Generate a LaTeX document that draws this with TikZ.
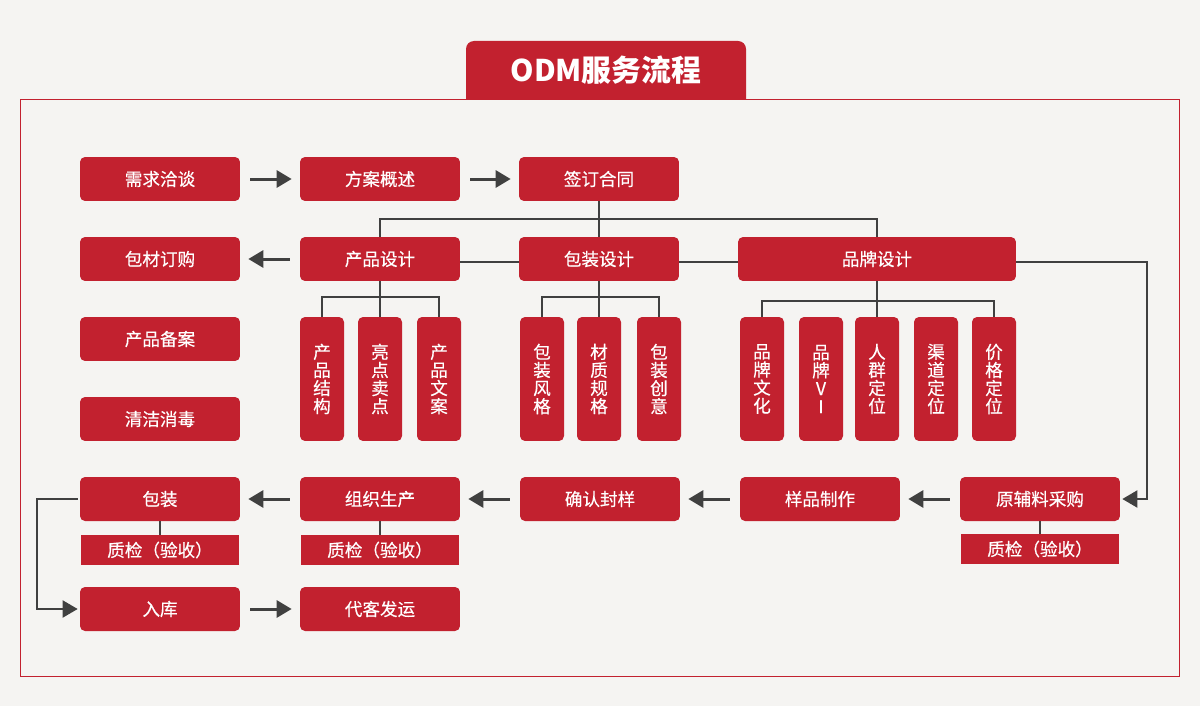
\documentclass[tikz,border=0pt]{standalone}
\usepackage{fontspec}
\setmainfont{Noto Sans CJK SC}
\newfontfamily\boxfont{Noto Sans CJK SC}[FakeBold=0.4]
\usetikzlibrary{arrows.meta}

\definecolor{odmred}{HTML}{C2212F}
\definecolor{bggrey}{HTML}{F5F4F2}
\definecolor{lineg}{HTML}{404040}

\tikzset{
  box/.style={fill=odmred, text=white, rounded corners=0.1cm, minimum width=3.2cm,
    minimum height=0.88cm, inner sep=0pt, font=\boxfont\fontsize{10}{12}\selectfont},
  vbox/.style={fill=odmred, text=white, rounded corners=0.1cm, minimum width=0.88cm,
    minimum height=2.48cm, inner sep=0pt, align=center, font=\boxfont\fontsize{10}{10.3}\selectfont},
  qbox/.style={fill=odmred, text=white, minimum width=3.18cm, minimum height=0.6cm,
    inner sep=0pt, font=\boxfont\fontsize{10}{12}\selectfont},
  link/.style={draw=lineg, line width=0.04cm},
  arr/.style={draw=lineg, line width=0.06cm, -{Triangle[length=0.3cm,width=0.34cm]},
    shorten <=0.2cm, shorten >=0.16cm},
}

\begin{document}
\begin{tikzpicture}[x=0.02cm, y=-0.02cm]

    % Background and frame
    \useasboundingbox (0,0) rectangle (1200,706);
    \fill[bggrey] (0,0) rectangle (1200,706);
    \draw[odmred, line width=0.02cm] (20,100) rectangle (1179,676);

    % Title tab
    \fill[odmred] (466,100) [rounded corners=0.16cm] -- (466,41) -- (746,41) [sharp corners] -- (746,100) -- cycle;
    \node[text=white, font=\fontsize{17}{20}\bfseries\selectfont] (title) at (606,70) {ODM服务流程};

    % Row 1
    \node[box] (xuqiu) at (160,179) {需求洽谈};
    \node[box] (fangan) at (380,179) {方案概述};
    \node[box] (hetong) at (599,179) {签订合同};

    % Row 2
    \node[box] (baocai) at (160,259) {包材订购};
    \node[box] (cpsj) at (380,259) {产品设计};
    \node[box] (bzsj) at (599,259) {包装设计};
    \node[box, minimum width=5.56cm] (ppsj) at (877,259) {品牌设计};

    % Left column
    \node[box] (beian) at (160,339) {产品备案};
    \node[box] (qingjie) at (160,419) {清洁消毒};

    % Vertical boxes
    \node[vbox] (jiegou) at (322,379) {产\\品\\结\\构};
    \node[vbox] (liangdian) at (380,379) {亮\\点\\卖\\点};
    \node[vbox] (wenan) at (439,379) {产\\品\\文\\案};

    \node[vbox] (fengge) at (542,379) {包\\装\\风\\格};
    \node[vbox] (caizhi) at (599,379) {材\\质\\规\\格};
    \node[vbox] (chuangyi) at (659,379) {包\\装\\创\\意};

    \node[vbox] (wenhua) at (762,379) {品\\牌\\文\\化};
    \node[vbox] (vi) at (821,379) {品\\牌\\V\\I};
    \node[vbox] (renqun) at (877,379) {人\\群\\定\\位};
    \node[vbox] (qudao) at (936,379) {渠\\道\\定\\位};
    \node[vbox] (jiage) at (994,379) {价\\格\\定\\位};

    % Row 5
    \node[box] (baozhuang) at (160,499) {包装};
    \node[box] (shengchan) at (380,499) {组织生产};
    \node[box] (fengyang) at (600,499) {确认封样};
    \node[box] (yangpin) at (820,499) {样品制作};
    \node[box] (caigou) at (1040,499) {原辅料采购};

    % Quality checks
    \node[qbox] (zj1) at (160,550) {质检（验收）};
    \node[qbox] (zj2) at (380,550) {质检（验收）};
    \node[qbox] (zj3) at (1040,549) {质检（验收）};

    % Row 6
    \node[box] (ruku) at (160,609) {入库};
    \node[box] (fayun) at (380,609) {代客发运};

    % Tree links
    \draw[link] (hetong.south) -- ++(0,18) -| (cpsj.north);
    \draw[link] (hetong.south) -- ++(0,18) -| (ppsj.north);
    \draw[link] (hetong.south) -- (bzsj.north);
    \draw[link] ([yshift=-0.06cm]cpsj.east) -- ([yshift=-0.06cm]bzsj.west);
    \draw[link] ([yshift=-0.06cm]bzsj.east) -- ([yshift=-0.06cm]ppsj.west);

    \draw[link] (cpsj.south) -- ++(0,16) -| (jiegou.north);
    \draw[link] (cpsj.south) -- ++(0,16) -| (wenan.north);
    \draw[link] (cpsj.south) -- (liangdian.north);

    \draw[link] (bzsj.south) -- ++(0,16) -| (fengge.north);
    \draw[link] (bzsj.south) -- ++(0,16) -| (chuangyi.north);
    \draw[link] (bzsj.south) -- (caizhi.north);

    \draw[link] (ppsj.south) -- ++(0,20) -| (wenhua.north);
    \draw[link] (ppsj.south) -- ++(0,20) -| (jiage.north);
    \draw[link] (ppsj.south) -- (renqun.north);

    \draw[link] (baozhuang.south) -- (zj1.north);
    \draw[link] (shengchan.south) -- (zj2.north);
    \draw[link] (caigou.south) -- (zj3.north);

    % Flow arrows
    \draw[arr] (xuqiu.east) -- (fangan.west);
    \draw[arr] (fangan.east) -- (hetong.west);
    \draw[arr] (cpsj.west) -- (baocai.east);
    \draw[arr] (caigou.west) -- (yangpin.east);
    \draw[arr] (yangpin.west) -- (fengyang.east);
    \draw[arr] (fengyang.west) -- (shengchan.east);
    \draw[arr] (shengchan.west) -- (baozhuang.east);
    \draw[arr] (ruku.east) -- (fayun.west);

    % Side connectors
    \draw[link, -{Triangle[length=0.3cm,width=0.34cm]}, shorten >=0.04cm]
      ([yshift=-0.06cm]ppsj.east) -- ++(131,0) |- (caigou.east);
    \draw[link, -{Triangle[length=0.3cm,width=0.34cm]}, shorten <=0.04cm, shorten >=0.04cm]
      (baozhuang.west) -- ++(-43,0) |- (ruku.west);

\end{tikzpicture}
\end{document}
